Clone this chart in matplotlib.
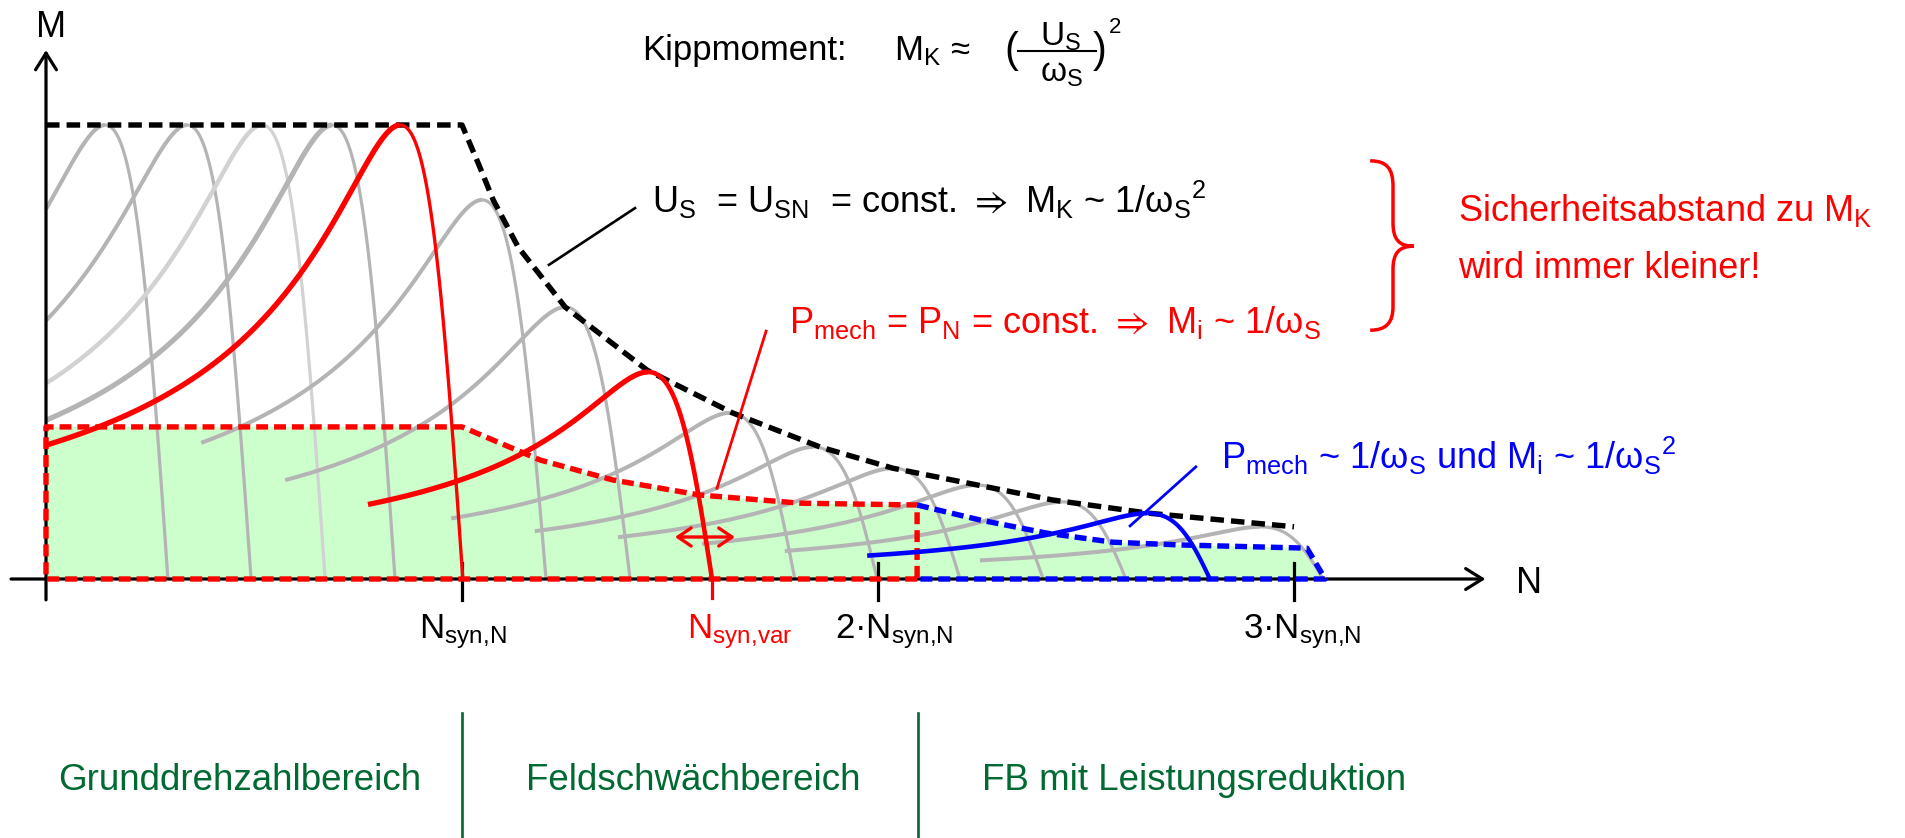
import numpy as np
import matplotlib
matplotlib.use("Agg")
import matplotlib.pyplot as plt
from matplotlib.path import Path
from matplotlib.patches import PathPatch, Polygon

plt.rcParams['font.family'] = ['Liberation Sans', 'DejaVu Sans']
plt.rcParams['mathtext.default'] = 'regular'

# ---------------- data (N in units of N_syn,N ; M relative to breakdown torque) ----
# breakdown-torque envelope (black dashed)
kipp_N = [0.0, 1.0, 1.043, 1.075, 1.135, 1.248, 1.445, 1.65, 1.86, 2.036, 2.42, 2.65, 3.0]
kipp_M = [1.0, 1.0, 0.907, 0.835, 0.731, 0.599, 0.46, 0.366, 0.291, 0.244, 0.174, 0.145, 0.115]

# rated torque / constant power limit (red dashed)
pn_N = [0.0, 1.0, 1.188, 1.363, 1.572, 1.813, 2.094]
pn_M = [0.335, 0.335, 0.262, 0.218, 0.185, 0.167, 0.163]

# reduced power limit (blue dashed)
red_N = [2.094, 2.245, 2.406, 2.565, 2.726, 3.031, 3.075]
red_M = [0.163, 0.130, 0.101, 0.081, 0.075, 0.068, 0.0]

# torque-speed characteristics: synchronous speed, speed at peak, peak torque, first speed drawn
curve_N0 = [0.293, 0.493, 0.671, 0.839, 1.002, 1.202, 1.404, 1.601, 1.800, 1.998,
            2.197, 2.397, 2.596, 2.798, 3.070]
curve_Npk = [0.142, 0.339, 0.519, 0.6875, 0.851, 1.048, 1.248, 1.447, 1.644, 1.844,
             2.036, 2.238, 2.442, 2.647, 2.918]
curve_Mk = [1.0, 1.0, 1.0, 1.0, 1.0, 0.835, 0.599, 0.456, 0.366, 0.291,
            0.244, 0.207, 0.170, 0.145, 0.115]
curve_Nstart = [0.0, 0.0, 0.0, 0.0, 0.0, 0.373, 0.575, 0.774, 0.974, 1.175,
                1.375, 1.577, 1.776, 1.974, 2.245]
curve_kind = ['g', 'g', 'l', 'G', 'r', 'g', 'g', 'R', 'g', 'g', 'g', 'g', 'g', 'b', 'g']

tick_N = [1, 2, 3]
tick_labels = ['N$_{syn{,}N}$', '2·N$_{syn{,}N}$', '3·N$_{syn{,}N}$']
tick_label_N = [0.897, 1.897, 2.877]
Nvar = 1.601
zone_bounds = [1.0, 2.096]
zone_labels = ['Grunddrehzahlbereich', 'Feldschwächbereich', 'FB mit Leistungsreduktion']
zone_label_N = [0.029, 1.154, 2.25]

# ---------------- figure ----------------
fig = plt.figure(figsize=(19.06, 8.38), dpi=100)
ax = fig.add_axes([0, 0, 1, 1])
ax.set_xlim(-46 / 416, 1860 / 416)
ax.set_ylim(-259 / 454, 579 / 454)
ax.axis('off')

GRAY = '#b4b4b4'
LGRAY = '#d2d2d2'
RED = '#ff0000'
BLUE = '#0000ff'
GREEN = '#006a32'
FILL = '#ccffcc'
FS = 26

# green operating area
poly = [(0, 0)] + list(zip(pn_N, pn_M)) + list(zip(red_N[1:], red_M[1:]))
ax.add_patch(Polygon(poly, closed=True, facecolor=FILL, edgecolor='none', zorder=1))

styles = {
    'g': (GRAY, 2.9, 2.3, 2),
    'l': (LGRAY, 3.2, 2.3, 2),
    'G': (GRAY, 3.7, 2.3, 2),
    'r': (RED, 3.9, 2.4, 5),
    'R': (RED, 3.8, 3.3, 5),
    'b': (BLUE, 3.3, 3.0, 5),
}


def kloss(N, N0, Npk, Mk):
    s = (N0 - N) / N0
    sk = (N0 - Npk) / N0
    return 2 * Mk * s * sk / (s ** 2 + sk ** 2)


for N0, Npk, Mk, Ns, kind in zip(curve_N0, curve_Npk, curve_Mk, curve_Nstart, curve_kind):
    col, w_rise, w_fall, z = styles[kind]
    Nf = np.linspace(Npk, N0, 120)
    ax.plot(Nf, kloss(Nf, N0, Npk, Mk), color=col, lw=w_fall, zorder=z,
            solid_capstyle='butt')
    Nr = np.linspace(Ns, Npk, 200)
    ax.plot(Nr, kloss(Nr, N0, Npk, Mk), color=col, lw=w_rise, zorder=z,
            solid_capstyle='butt')

# axes with arrows
ax.annotate('', xy=(3.46, 0), xytext=(-0.084, 0),
            arrowprops=dict(arrowstyle='->,head_length=1.2,head_width=0.75', lw=2.3,
                            color='k', shrinkA=0, shrinkB=0), zorder=3)
ax.annotate('', xy=(0, 1.165), xytext=(0, -0.046),
            arrowprops=dict(arrowstyle='->,head_length=1.2,head_width=0.75', lw=2.3,
                            color='k', shrinkA=0, shrinkB=0), zorder=3)
for t in tick_N:
    ax.plot([t, t], [0.035, -0.046], color='k', lw=2.3, zorder=3)
ax.plot([Nvar, Nvar], [0, -0.042], color=RED, lw=2.3, zorder=5)

# envelopes
ax.plot(kipp_N, kipp_M, color='k', lw=3.9, dashes=(2.5, 1.3), zorder=4)
red_outline_N = [pn_N[-1], 0] + pn_N + [pn_N[-1]]
red_outline_M = [0, 0] + pn_M + [0]
ax.plot(red_outline_N, red_outline_M, color=RED, lw=3.9, dashes=(2.2, 1.1), zorder=4.5)
blue_outline_N = red_N + [red_N[0]]
blue_outline_M = red_M + [0]
ax.plot(blue_outline_N, blue_outline_M, color=BLUE, lw=3.9, dashes=(2.2, 1.1), zorder=4.5)

# double arrow at N_syn,var
ax.annotate('', xy=(1.512, 0.0925), xytext=(1.656, 0.0925),
            arrowprops=dict(arrowstyle='<->,head_length=0.95,head_width=0.65', lw=2.4,
                            color=RED, shrinkA=0, shrinkB=0), zorder=6)

# leader lines
ax.plot([1.416, 1.209], [0.817, 0.692], color='k', lw=1.9, zorder=6)
ax.plot([1.731, 1.613], [0.546, 0.200], color=RED, lw=2.0, zorder=6)
ax.plot([2.764, 2.606], [0.247, 0.117], color=BLUE, lw=2.0, zorder=6)

# brace
xe, xs, xt = 3.183, 3.238, 3.288
yt, ym, yb = 0.921, 0.733, 0.548
verts = [(xe, yt), (3.222, yt), (xs, 0.905), (xs, 0.865),
         (xs, 0.785),
         (xs, 0.748), (3.252, ym), (xt, ym),
         (3.252, ym), (xs, 0.718), (xs, 0.681),
         (xs, 0.600),
         (xs, 0.565), (3.222, yb), (xe, yb)]
codes = [Path.MOVETO, Path.CURVE4, Path.CURVE4, Path.CURVE4,
         Path.LINETO,
         Path.CURVE4, Path.CURVE4, Path.CURVE4,
         Path.CURVE4, Path.CURVE4, Path.CURVE4,
         Path.LINETO,
         Path.CURVE4, Path.CURVE4, Path.CURVE4]
ax.add_patch(PathPatch(Path(verts, codes), facecolor='none', edgecolor=RED, lw=2.5, zorder=6))

# ---------------- texts ----------------
ax.text(0.012, 1.194, 'M', ha='center', va='baseline', fontsize=FS)
ax.text(3.565, -0.031, 'N', ha='center', va='baseline', fontsize=FS)

ax.text(1.433, 1.143, 'Kippmoment:', fontsize=25, va='baseline')
ax.text(2.038, 1.143, 'M$_K$ ≈', fontsize=25, va='baseline')
ax.text(2.320, 1.163, '(', fontsize=30, ha='center', va='center')
ax.text(2.438, 1.175, 'U$_S$', fontsize=24, ha='center', va='baseline')
ax.plot([2.337, 2.524], [1.163, 1.163], color='k', lw=1.5)
ax.text(2.44, 1.095, 'ω$_S$', fontsize=24, ha='center', va='baseline')
ax.text(2.534, 1.163, ')', fontsize=30, ha='center', va='center')
ax.text(2.555, 1.203, '2', fontsize=16, va='baseline')

ax.text(1.457, 0.806, 'U$_S$  = U$_{SN}$  = const. $\\Rightarrow$ M$_K$ ~ 1/ω$_S$$^2$',
        fontsize=FS, va='baseline')
ax.text(1.786, 0.542, 'P$_{mech}$ = P$_N$ = const. $\\Rightarrow$ M$_i$ ~ 1/ω$_S$',
        fontsize=FS, va='baseline', color=RED)
ax.text(2.825, 0.242, 'P$_{mech}$ ~ 1/ω$_S$ und M$_i$ ~ 1/ω$_S$$^2$',
        fontsize=FS, va='baseline', color=BLUE)
ax.text(3.394, 0.789, 'Sicherheitsabstand zu M$_K$', fontsize=FS, va='baseline', color=RED)
ax.text(3.394, 0.663, 'wird immer kleiner!', fontsize=FS, va='baseline', color=RED)

for lab, xn in zip(tick_labels, tick_label_N):
    ax.text(xn, -0.130, lab, fontsize=25, va='baseline')
ax.text(1.541, -0.130, 'N$_{syn{,}var}$', fontsize=25, va='baseline', color=RED)

for b in zone_bounds:
    ax.plot([b, b], [-0.295, -0.58], color=GREEN, lw=1.9)
for lab, xn in zip(zone_labels, zone_label_N):
    ax.text(xn, -0.465, lab, fontsize=26.5, va='baseline', color=GREEN)

fig.savefig('out.png', dpi=100)
